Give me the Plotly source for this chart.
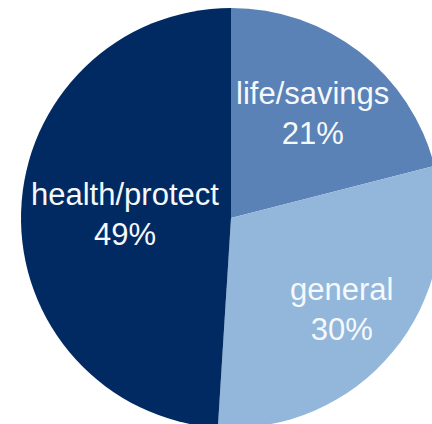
import math
import plotly.graph_objects as go

labels = ["life/savings", "general", "health/protect"]
values = [21, 30, 49]
colors = ["#5a82b6", "#92b7da", "#012a62"]

# radial placement of each label, as a fraction of the pie radius (style only)
label_radius = [0.63, 0.685, 0.505]

fig = go.Figure(
    go.Pie(
        labels=labels,
        values=values,
        sort=False,
        direction="clockwise",
        rotation=0,
        marker=dict(colors=colors, line=dict(width=0)),
        textinfo="none",
        hoverinfo="skip",
        showlegend=False,
        domain=dict(x=[0, 1], y=[0, 1]),
    )
)

total = sum(values)
cum = 0
for lab, val, rf in zip(labels, values, label_radius):
    mid = (cum + val / 2) / total * 2 * math.pi
    cum += val
    pct = round(val / total * 100)
    fig.add_annotation(
        x=0.5 + 0.5 * rf * math.sin(mid),
        y=0.5 + 0.5 * rf * math.cos(mid),
        xref="paper",
        yref="paper",
        text=f"{lab}<br>{pct}%",
        showarrow=False,
        xanchor="center",
        yanchor="middle",
        align="center",
        font=dict(family="Liberation Sans, Arial, sans-serif", size=31, color="#f6f9fc"),
    )

fig.update_layout(
    width=441,
    height=428,
    margin=dict(l=21, r=0, t=8, b=0, autoexpand=False),
    paper_bgcolor="#ffffff",
    plot_bgcolor="#ffffff",
)

fig.write_html(
    "out.html",
    config={"displayModeBar": False},
    post_script="document.body.style.margin='0';document.body.style.overflow='hidden';document.documentElement.style.overflow='hidden';",
)
